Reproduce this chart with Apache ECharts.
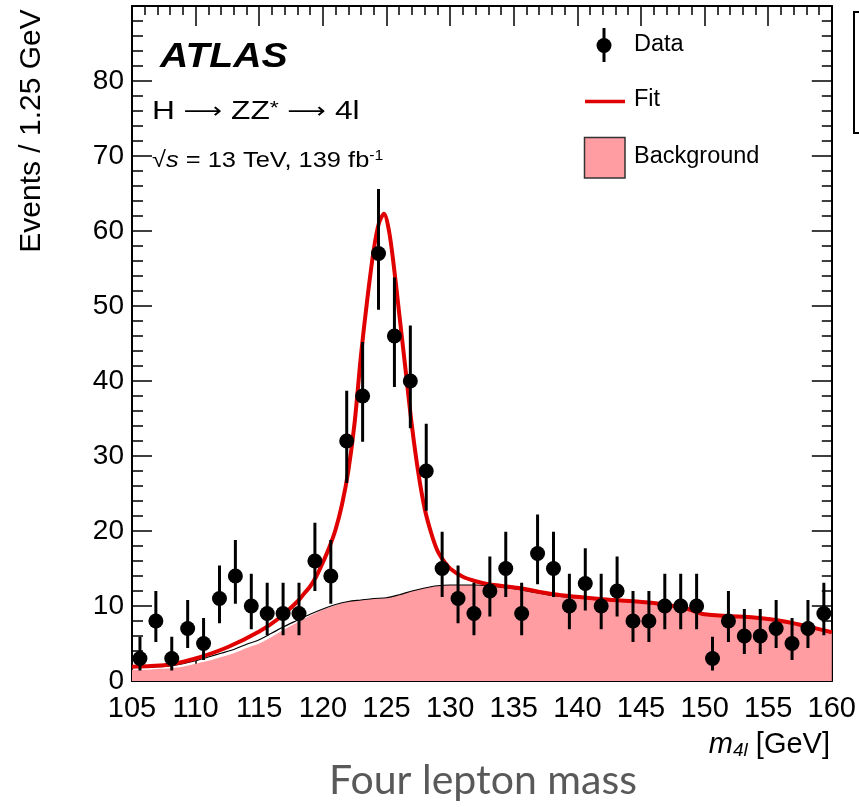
<!DOCTYPE html>
<html>
<head>
<meta charset="utf-8">
<script src="https://cdn.jsdelivr.net/npm/echarts@6/dist/echarts.min.js"></script>
<style>
html,body{margin:0;padding:0;background:#fff;}
#chart{width:859px;height:807px;}
</style>
</head>
<body>
<div id="chart"></div>
<script>
// ---- data ----
const binCenters = [105.625,106.875,108.125,109.375,110.625,111.875,113.125,114.375,115.625,116.875,
  118.125,119.375,120.625,121.875,123.125,124.375,125.625,126.875,128.125,129.375,
  130.625,131.875,133.125,134.375,135.625,136.875,138.125,139.375,140.625,141.875,
  143.125,144.375,145.625,146.875,148.125,149.375,150.625,151.875,153.125,154.375,
  155.625,156.875,158.125,159.375];
const dataCounts = [3,8,3,7,5,11,14,10,9,9,
  9,16,14,32,38,57,46,40,28,15,
  11,9,12,15,9,17,15,10,13,10,
  12,8,8,10,10,10,3,8,6,6,
  7,5,7,9];
const errLow = [1.6,2.8,1.6,2.6,2.2,3.3,3.7,3.1,2.9,2.9,
  2.9,4.0,3.7,5.6,6.1,7.5,6.8,6.3,5.3,3.8,
  3.3,2.9,3.4,3.8,2.9,4.1,3.8,3.1,3.6,3.1,
  3.4,2.8,2.8,3.1,3.1,3.1,1.6,2.8,2.4,2.4,
  2.6,2.2,2.6,2.9];
const errHigh = [2.9,4.0,2.9,3.8,3.4,4.4,4.8,4.3,4.1,4.1,
  4.1,5.1,4.8,6.7,7.2,8.6,7.8,7.4,6.3,4.9,
  4.4,4.1,4.6,4.9,4.1,5.2,4.9,4.3,4.7,4.3,
  4.6,4.0,4.0,4.3,4.3,4.3,2.9,4.0,3.6,3.6,
  3.8,3.4,3.8,4.1];

const bgMass = [105,106,107,108,109,110,111,112,113,114,115,116,117,118,119,120,121,122,123,124,125,
  126,127,128,129,130,131,132,133,134,135,136,137,138,139,140,141,142,143,144,145,
  146,147,148,149,150,151,152,153,154,155,156,157,158,159,160];
const bgTotal = [1.8,1.8,1.9,2.0,2.3,2.7,3.2,3.7,4.2,4.9,5.5,6.4,7.3,8.1,8.9,9.6,10.2,10.6,10.8,11.0,11.1,
  11.5,12.0,12.4,12.7,12.8,12.8,12.8,12.7,12.5,12.3,12.0,11.7,11.4,11.2,11.1,11.0,10.9,10.8,10.6,10.5,
  10.3,10.1,9.7,9.3,8.9,8.7,8.6,8.5,8.4,8.2,7.9,7.6,7.2,6.9,6.5];
const bgMain = [1.5,1.5,1.6,1.7,1.9,2.3,2.7,3.2,3.7,4.4,5.0,5.9,6.9,7.8,8.7,9.5,10.1,10.6,10.8,11.0,11.1,
  11.5,12.0,12.4,12.7,12.8,12.8,12.8,12.7,12.5,12.3,12.0,11.7,11.4,11.2,11.1,11.0,10.9,10.8,10.6,10.5,
  10.3,10.1,9.7,9.3,8.9,8.7,8.6,8.5,8.4,8.2,7.9,7.6,7.2,6.9,6.5];

const fitMass = [105.0,106.5,108.0,110.0,112.5,115.0,116.5,118.0,118.5,119.0,119.5,120.0,120.5,121.0,121.5,122.0,122.5,
  123.0,123.5,124.0,124.4,124.8,125.2,125.6,126.0,126.5,127.0,127.5,128.0,128.5,129.0,129.5,130.0,131.0,132.0,
  133.0,135.4,138.0,142.0,146.0,148.5,150.0,153.7,156.4,160.0];
const fitValue = [1.9,2.0,2.2,3.0,4.5,6.6,8.3,10.6,11.6,12.6,14.0,15.8,17.8,20.2,23.5,28.0,34.5,
  43.5,51.0,57.5,61.0,62.3,60.0,55.0,49.0,41.5,34.0,27.8,23.0,19.8,17.4,16.0,15.0,13.9,13.3,
  12.9,12.4,11.6,10.9,10.4,9.7,8.9,8.5,7.9,6.5];

const xTicks = {min:105, max:160, interval:5};
const yTicks = {min:0, max:90, interval:10};

// ---- build ----
const FONT = "'Liberation Sans', Arial, Helvetica, sans-serif";
const pointData = binCenters.map((x,i)=>[x, dataCounts[i]]);
const errData = binCenters.map((x,i)=>[x, dataCounts[i]-errLow[i], dataCounts[i]+errHigh[i]]);
const bgTotalData = bgMass.map((x,i)=>[x, bgTotal[i]]);
const bgMainData = bgMass.map((x,i)=>[x, bgMain[i]]);
const fitData = fitMass.map((x,i)=>[x, fitValue[i]]);

const axisCommon = {
  axisLine:{show:true, onZero:false, lineStyle:{color:'#000', width:2}},
  splitLine:{show:false},
};

const chart = echarts.init(document.getElementById('chart'), null, {renderer:'canvas'});
const option = {
  animation:false,
  backgroundColor:'#fff',
  grid:{left:132, right:26, top:6, bottom:126, containLabel:false},
  xAxis:[
    Object.assign({type:'value', position:'bottom', min:xTicks.min, max:xTicks.max, interval:xTicks.interval,
      axisTick:{show:true, inside:true, length:20, lineStyle:{color:'#000', width:1.5}},
      minorTick:{show:true, splitNumber:5, length:10, lineStyle:{color:'#000', width:1.5}},
      axisLabel:{show:true, margin:13, color:'#000', fontSize:29, fontFamily:FONT}}, axisCommon),
    Object.assign({type:'value', position:'top', min:xTicks.min, max:xTicks.max, interval:xTicks.interval,
      axisTick:{show:true, inside:true, length:20, lineStyle:{color:'#000', width:1.5}},
      minorTick:{show:true, splitNumber:5, length:9, lineStyle:{color:'#000', width:1.5}},
      axisLabel:{show:false}}, axisCommon)
  ],
  yAxis:[
    Object.assign({type:'value', position:'left', min:yTicks.min, max:yTicks.max, interval:yTicks.interval,
      axisTick:{show:true, inside:true, length:20, lineStyle:{color:'#000', width:1.5}},
      minorTick:{show:true, splitNumber:5, length:11, lineStyle:{color:'#000', width:1.5}},
      axisLabel:{show:true, margin:8, color:'#000', fontSize:28, fontFamily:FONT, showMaxLabel:false}}, axisCommon),
    Object.assign({type:'value', position:'right', min:yTicks.min, max:yTicks.max, interval:yTicks.interval,
      axisTick:{show:true, inside:true, length:20, lineStyle:{color:'#000', width:1.5}},
      minorTick:{show:true, splitNumber:5, length:10, lineStyle:{color:'#000', width:1.5}},
      axisLabel:{show:false}}, axisCommon)
  ],
  series:[
    {name:'Background', type:'line', data:bgMainData, smooth:0.3, symbol:'none', z:1,
      lineStyle:{width:0, color:'#ff9da3'}, areaStyle:{color:'#ff9da3', opacity:1}},
    {name:'BackgroundOutline', type:'line', data:bgTotalData, smooth:0.3, symbol:'none', z:2,
      lineStyle:{width:1.2, color:'#000'}},
    {name:'Fit', type:'line', data:fitData, smooth:0.3, symbol:'none', z:3,
      lineStyle:{width:4, color:'#e00000'}},
    {name:'DataErr', type:'custom', data:errData, z:4,
      renderItem:function(params, api){
        const p1 = api.coord([api.value(0), api.value(1)]);
        const p2 = api.coord([api.value(0), api.value(2)]);
        return {type:'line', shape:{x1:p1[0], y1:p1[1], x2:p2[0], y2:p2[1]},
          style:{stroke:'#000', lineWidth:3}};
      }},
    {name:'Data', type:'scatter', data:pointData, symbol:'circle', symbolSize:15, z:5,
      itemStyle:{color:'#000', opacity:1}}
  ],
  graphic:[
    {type:'text', x:160, y:57, scaleX:1.12, style:{text:'ATLAS', font:"italic bold 35px "+FONT, fill:'#000', verticalAlign:'middle'}},
    {type:'text', x:152, y:112, scaleX:1.22, style:{text:'{a|H}{p| }{r|⟶}{p| }{a|ZZ}{s|*}{p| }{r|⟶}{p| }{a|4l}', fill:'#000', verticalAlign:'middle',
      rich:{a:{fontSize:26, fontFamily:FONT, fill:'#000'},
        p:{fontSize:26, fontFamily:FONT, fill:'#000'},
        r:{fontSize:22, fontFamily:"'DejaVu Sans', sans-serif", fill:'#000'},
        s:{fontSize:19, fontFamily:FONT, verticalAlign:'top', fill:'#000'}}}},
    {type:'text', x:152, y:161, scaleX:1.13, style:{text:'{a|√}{i|s}{a| = 13 TeV, 139 fb}{s|-1}', fill:'#000', verticalAlign:'middle',
      rich:{a:{fontSize:22.5, fontFamily:FONT, fill:'#000'}, i:{fontSize:22.5, fontFamily:FONT, fontStyle:'italic', fill:'#000'},
        s:{fontSize:14, fontFamily:FONT, verticalAlign:'top', fill:'#000'}}}},
    // legend
    {type:'line', shape:{x1:604, y1:28, x2:604, y2:62}, style:{stroke:'#000', lineWidth:3}},
    {type:'circle', shape:{cx:604, cy:45.5, r:7.5}, style:{fill:'#000'}},
    {type:'text', x:634, y:45, style:{text:'Data', fontSize:23.5, fontFamily:FONT, fill:'#000', verticalAlign:'middle'}},
    {type:'line', shape:{x1:585, y1:101.5, x2:625, y2:101.5}, style:{stroke:'#e00000', lineWidth:3.3}},
    {type:'text', x:634, y:100, style:{text:'Fit', fontSize:23.5, fontFamily:FONT, fill:'#000', verticalAlign:'middle'}},
    {type:'rect', shape:{x:584.5, y:137.5, width:40.5, height:40.5}, style:{fill:'#ff9da3', stroke:'#333', lineWidth:1.5}},
    {type:'text', x:634, y:157, style:{text:'Background', fontSize:23.5, fontFamily:FONT, fill:'#000', verticalAlign:'middle'}},
    // cut-off box on the right edge
    {type:'rect', shape:{x:854, y:12, width:30, height:121}, style:{fill:'none', stroke:'#000', lineWidth:2}},
    // axis titles
    {type:'text', x:32, y:131, rotation:Math.PI/2, style:{text:'Events / 1.25 GeV', fontSize:30, fontFamily:FONT, fill:'#000', align:'center', verticalAlign:'middle'}},
    {type:'text', x:830, y:745, style:{text:'{m|m}{sub|4l}{a| [GeV]}', align:'right', verticalAlign:'middle',
      rich:{m:{fontSize:29, fontFamily:FONT, fontStyle:'italic', fill:'#000'},
        sub:{fontSize:19, fontFamily:FONT, fontStyle:'italic', verticalAlign:'bottom', padding:[12,0,0,0], fill:'#000'},
        a:{fontSize:29, fontFamily:FONT, fill:'#000'}}}},
    {type:'text', x:483, y:781, style:{text:'Four lepton mass', fontSize:41, fontFamily:"Lato, 'Open Sans', sans-serif", fill:'#595959', align:'center', verticalAlign:'middle'}}
  ]
};
chart.setOption(option);
</script>
</body>
</html>
